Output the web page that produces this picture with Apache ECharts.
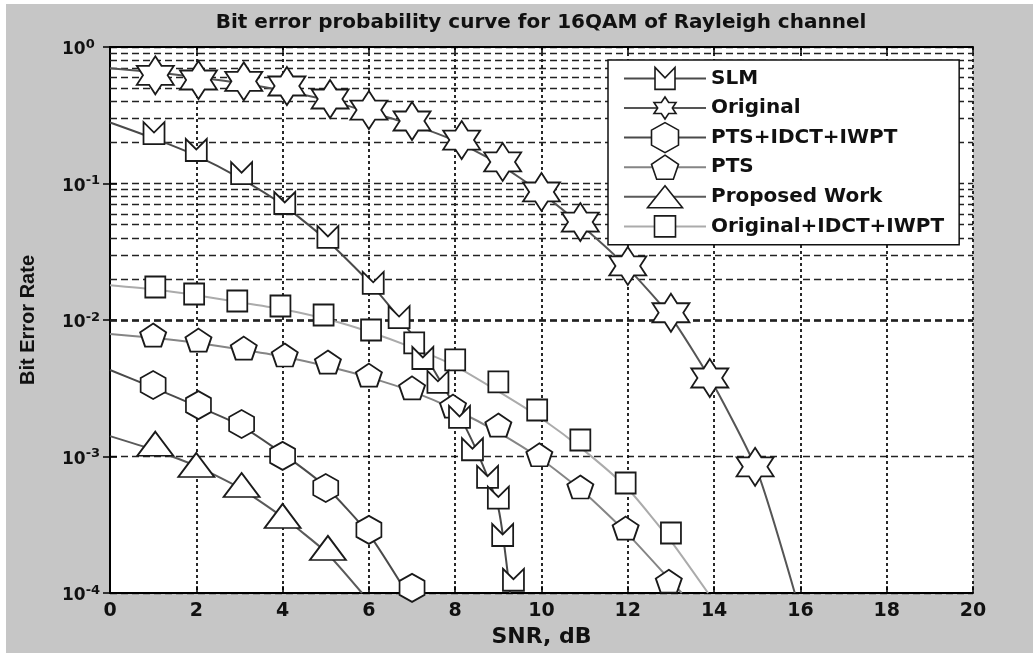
<!DOCTYPE html>
<html><head><meta charset="utf-8">
<script src="https://cdn.jsdelivr.net/npm/echarts@6/dist/echarts.min.js"></script>
<style>
html,body{margin:0;padding:0;background:#fff;}
#bg{position:absolute;left:6px;top:4px;width:1027px;height:649px;background:#c6c6c6;}
#chart{position:absolute;left:0;top:0;width:1033px;height:653px;}
</style></head><body><div id="bg"></div><div id="chart"></div>
<script>
// ---------------- data ----------------
const seriesNames = ['SLM', 'Original', 'PTS+IDCT+IWPT', 'PTS', 'Proposed Work', 'Original+IDCT+IWPT'];

// marker points (SNR dB, BER)
const slmSnr = [1.02, 2.0, 3.05, 4.05, 5.05, 6.1, 6.7, 7.25, 7.6, 8.1, 8.4, 8.75, 9.0, 9.1, 9.35];
const slmBer = [0.234, 0.176, 0.119, 0.072, 0.0406, 0.0187, 0.0105, 0.00527, 0.00352, 0.00195, 0.00113, 0.00071, 0.0005, 0.000266, 0.000125];
const origSnr = [1.05, 2.05, 3.1, 4.1, 5.1, 6.0, 7.0, 8.15, 9.1, 10.0, 10.9, 12.0, 13.0, 13.9, 14.95];
const origBer = [0.62, 0.573, 0.56, 0.518, 0.416, 0.345, 0.287, 0.208, 0.144, 0.0867, 0.0522, 0.0249, 0.0113, 0.00376, 0.00084];
const ptsIdctSnr = [1.0, 2.05, 3.05, 4.0, 5.0, 6.0, 7.0];
const ptsIdctBer = [0.00334, 0.00238, 0.00173, 0.00101, 0.000588, 0.00029, 0.000109];
const ptsSnr = [1.0, 2.05, 3.1, 4.05, 5.05, 6.0, 7.0, 7.95, 9.0, 9.95, 10.9, 11.95, 12.95];
const ptsBer = [0.00776, 0.00713, 0.00623, 0.00554, 0.00492, 0.00395, 0.00318, 0.00234, 0.0017, 0.00103, 0.000598, 0.000299, 0.000122];
const propSnr = [1.05, 2.0, 3.05, 4.0, 5.05];
const propBer = [0.00124, 0.000867, 0.000618, 0.000367, 0.000214];
const origIdctSnr = [1.05, 1.95, 2.95, 3.95, 4.95, 6.05, 7.05, 8.0, 9.0, 9.9, 10.9, 11.95, 13.0];
const origIdctBer = [0.01745, 0.0155, 0.01377, 0.01267, 0.01088, 0.00845, 0.00679, 0.0051, 0.00352, 0.00219, 0.00132, 0.00064, 0.000275];

// fitted curves (SNR dB, BER)
const slmCurveSnr = [0, 1, 2, 3, 4, 5, 6, 7, 8, 8.5, 9.0, 9.27];
const slmCurveBer = [0.28, 0.215, 0.16, 0.11, 0.07, 0.039, 0.019, 0.0078, 0.0023, 0.0011, 0.00042, 0.0001];
const origCurveSnr = [0, 1, 2, 3, 4, 5, 6, 7, 8, 9, 10, 11, 12, 13, 14, 15, 15.87];
const origCurveBer = [0.70, 0.655, 0.60, 0.545, 0.48, 0.41, 0.335, 0.27, 0.205, 0.14, 0.085, 0.047, 0.024, 0.0105, 0.0033, 0.00078, 0.0001];
const ptsIdctCurveSnr = [0, 1, 2, 3, 4, 5, 6, 6.88];
const ptsIdctCurveBer = [0.0043, 0.0032, 0.00235, 0.0017, 0.00105, 0.0006, 0.00027, 0.0001];
const ptsCurveSnr = [0, 1, 2, 3, 4, 5, 6, 7, 8, 9, 10, 11, 12, 13.25];
const ptsCurveBer = [0.0079, 0.0074, 0.0068, 0.0061, 0.0054, 0.0046, 0.0038, 0.003, 0.0022, 0.0015, 0.00095, 0.00054, 0.00027, 0.0001];
const propCurveSnr = [0, 1, 2, 3, 4, 5, 5.84];
const propCurveBer = [0.00141, 0.00112, 0.00085, 0.00059, 0.00036, 0.0002, 0.0001];
const origIdctCurveSnr = [0, 1, 2, 3, 4, 5, 6, 7, 8, 9, 10, 11, 12, 13, 13.86];
const origIdctCurveBer = [0.018, 0.0168, 0.0152, 0.0135, 0.012, 0.0102, 0.0082, 0.0063, 0.0046, 0.003, 0.0019, 0.0011, 0.00058, 0.00024, 0.0001];

// axes
const xMin = 0, xMax = 20, xStep = 2;
const yMin = 1e-4, yMax = 1;

// ---------------- drawing ----------------
const FONT = 'DejaVu Sans';
const zip = (a, b) => a.map((v, i) => [v, b[i]]);

function regular(n, r, startDeg, r2) {
  const pts = [];
  const count = r2 ? n * 2 : n;
  for (let i = 0; i < count; i++) {
    const a = (startDeg + i * 360 / count) * Math.PI / 180;
    const rr = r2 && (i % 2 === 1) ? r2 : r;
    pts.push([Math.cos(a) * rr, Math.sin(a) * rr]);
  }
  return pts;
}
const shapes = {
  slm: [[-1, -1], [0, -0.05], [1, -1], [1, 1], [-1, 1]],
  star: regular(6, 1, -90, 0.577),
  hex: regular(6, 1, -90),
  pent: regular(5, 1, -90),
  tri: [[0, -1], [1, 1], [-1, 1]],
  sq: [[-1, -1], [1, -1], [1, 1], [-1, 1]]
};
function bbox(pts) {
  const xs = pts.map(p => p[0]), ys = pts.map(p => p[1]);
  return [Math.min(...xs), Math.min(...ys), Math.max(...xs), Math.max(...ys)];
}
function plotPath(pts) {
  return 'path://M' + pts.map(p => p[0].toFixed(4) + ' ' + p[1].toFixed(4)).join(' L') + ' Z';
}
// legend symbol: shape of w x h centred in an S x S box (box corners added as moves)
function legendPath(pts, w, h, S) {
  const b = bbox(pts);
  const sx = w / (b[2] - b[0]), sy = h / (b[3] - b[1]);
  const ox = (S - w) / 2, oy = (S - h) / 2;
  const q = pts.map(p => [(p[0] - b[0]) * sx + ox, (p[1] - b[1]) * sy + oy]);
  return 'path://M0 0 M' + q.map(p => p[0].toFixed(3) + ' ' + p[1].toFixed(3)).join(' L') + ' Z M' + S + ' ' + S;
}

const LEG_H = 44, LEG_S = LEG_H * 0.8;
const defs = [
  { name: seriesNames[0], shape: 'slm', size: [21, 22], leg: [20, 22], color: '#4a4a4a', mx: slmSnr, my: slmBer, cx: slmCurveSnr, cy: slmCurveBer, z: 3.9 },
  { name: seriesNames[1], shape: 'star', size: [37, 38], leg: [22, 22], color: '#555555', mx: origSnr, my: origBer, cx: origCurveSnr, cy: origCurveBer, z: 3.4 },
  { name: seriesNames[2], shape: 'hex', size: [25, 28], leg: [27, 30], color: '#4a4a4a', mx: ptsIdctSnr, my: ptsIdctBer, cx: ptsIdctCurveSnr, cy: ptsIdctCurveBer, z: 3.5 },
  { name: seriesNames[3], shape: 'pent', size: [26, 23], leg: [27, 24], color: '#858585', mx: ptsSnr, my: ptsBer, cx: ptsCurveSnr, cy: ptsCurveBer, z: 3.6 },
  { name: seriesNames[4], shape: 'tri', size: [36, 24], leg: [35, 22], color: '#5a5a5a', mx: propSnr, my: propBer, cx: propCurveSnr, cy: propCurveBer, z: 3.7 },
  { name: seriesNames[5], shape: 'sq', size: [20, 21], leg: [21, 21], color: '#ababab', mx: origIdctSnr, my: origIdctBer, cx: origIdctCurveSnr, cy: origIdctCurveBer, z: 3.8 }
];

// minor horizontal grid levels (2..9 x 10^k)
const minorLevels = [];
for (let k = -4; k < 0; k++) for (let m = 2; m <= 9; m++) minorLevels.push(m * Math.pow(10, k));

const series = [];
series.push({
  type: 'line', name: 'grid', data: [[xMin, yMax]], showSymbol: false, silent: true, z: 1,
  lineStyle: { width: 0 },
  markLine: {
    silent: true, symbol: ['none', 'none'], label: { show: false }, animation: false, z: 1,
    lineStyle: { type: [7, 4], color: '#222', width: 1.3 },
    emphasis: { disabled: true },
    data: minorLevels.map(v => ({ yAxis: v }))
  }
});
defs.forEach(d => {
  series.push({
    type: 'line', name: d.name, data: zip(d.cx, d.cy), smooth: 0.2,
    showSymbol: false, symbol: legendPath(shapes[d.shape], d.leg[0], d.leg[1], LEG_S), symbolSize: 10,
    lineStyle: { color: d.color, width: 2 }, itemStyle: { color: d.color },
    silent: true, z: 2, emphasis: { disabled: true }
  });
});
defs.forEach(d => {
  series.push({
    type: 'scatter', name: d.name + ' markers', data: zip(d.mx, d.my),
    symbol: plotPath(shapes[d.shape]), symbolSize: d.size,
    itemStyle: { color: '#ffffff', borderColor: '#1a1a1a', borderWidth: 1.8, opacity: 1 },
    silent: true, z: d.z, emphasis: { disabled: true }
  });
});

const tickStyle = { show: true, inside: true, length: 7, lineStyle: { color: '#000', width: 1.5 } };
const axisLine = { show: true, lineStyle: { color: '#000', width: 2 } };

const option = {
  animation: false,
  backgroundColor: 'transparent',
  title: {
    text: 'Bit error probability curve for 16QAM of Rayleigh channel',
    left: 536, top: 8, textAlign: 'center',
    textStyle: { fontFamily: FONT, fontSize: 20, fontWeight: 'bold', color: '#111' }
  },
  legend: {
    data: seriesNames, orient: 'vertical', left: 608, top: 60, z: 20,
    itemWidth: 82, itemHeight: LEG_H, itemGap: -7.2,
    padding: [0, 15, 0, 15], backgroundColor: '#fff', borderColor: '#111', borderWidth: 1.5,
    selectedMode: false,
    itemStyle: { color: '#fff', borderColor: '#1a1a1a', borderWidth: 1.6 },
    lineStyle: { width: 2 },
    textStyle: { fontFamily: FONT, fontSize: 20, fontWeight: 'bold', color: '#111' }
  },
  grid: { left: 110, right: 60, top: 47, bottom: 60, containLabel: false, show: true, backgroundColor: '#ffffff', borderWidth: 0 },
  xAxis: [{
    type: 'value', min: xMin, max: xMax, interval: xStep, position: 'bottom',
    name: 'SNR, dB', nameLocation: 'middle', nameGap: 33,
    nameTextStyle: { fontFamily: FONT, fontSize: 22, fontWeight: 'bold', color: '#111' },
    axisLine: axisLine, axisTick: tickStyle,
    axisLabel: { fontFamily: FONT, fontSize: 19, fontWeight: 'bold', color: '#111', margin: 9 },
    splitLine: { show: true, lineStyle: { type: [3, 3], color: '#111', width: 1.8 } }
  }, {
    type: 'value', min: xMin, max: xMax, interval: xStep, position: 'top',
    axisLine: axisLine, axisTick: tickStyle, axisLabel: { show: false }, splitLine: { show: false }
  }],
  yAxis: [{
    type: 'log', logBase: 10, min: yMin, max: yMax, position: 'left',
    name: 'Bit Error Rate', nameLocation: 'middle', nameGap: 72, nameRotate: 90,
    nameTextStyle: { fontFamily: 'Liberation Sans', fontSize: 20, fontWeight: 'bold', color: '#111' },
    axisLine: axisLine, axisTick: tickStyle,
    axisLabel: {
      align: 'left', margin: 48,
      formatter: v => '{b|10}{s|' + Math.round(Math.log10(v)) + '}',
      rich: {
        b: { fontFamily: FONT, fontSize: 17, fontWeight: 'bold', color: '#111', lineHeight: 18, padding: [6, 0, 0, 0] },
        s: { fontFamily: FONT, fontSize: 13, fontWeight: 'bold', color: '#111', lineHeight: 14, verticalAlign: 'top' }
      }
    },
    splitLine: { show: true, lineStyle: { type: [7, 4], color: '#222', width: 1.3 } }
  }, {
    type: 'log', logBase: 10, min: yMin, max: yMax, position: 'right',
    axisLine: axisLine, axisTick: tickStyle, axisLabel: { show: false }, splitLine: { show: false }
  }],
  series: series
};
const chart = echarts.init(document.getElementById('chart'), null, { renderer: 'canvas' });
chart.setOption(option);
</script></body></html>
